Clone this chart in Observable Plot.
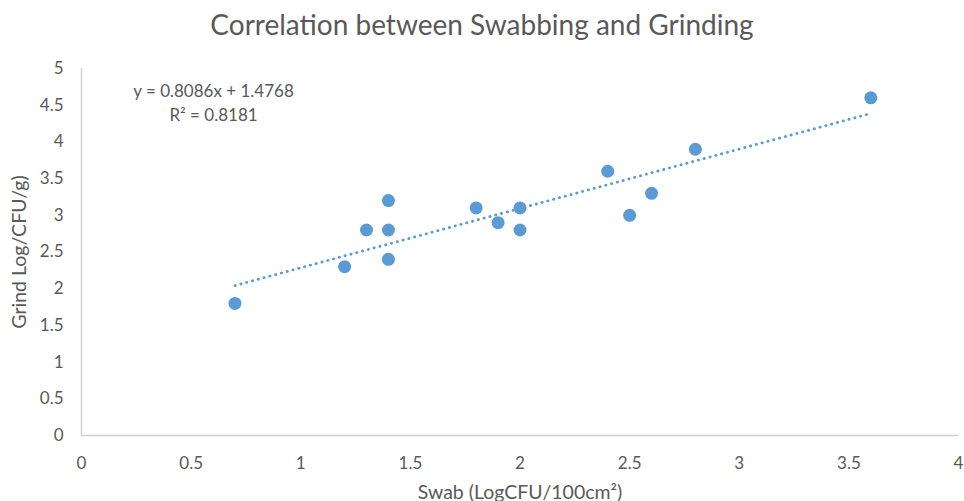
<!DOCTYPE html>
<html>
<head>
<meta charset="utf-8">
<script src="https://cdn.jsdelivr.net/npm/d3@7"></script>
<script src="https://cdn.jsdelivr.net/npm/@observablehq/plot@0.6"></script>
<style>
  html, body { margin: 0; padding: 0; background: #fff; overflow: hidden; }
  #title { height: 50px; width: 964px; text-align: center; font-family: Lato, "Open Sans", sans-serif; font-size: 28px; color: #595959; line-height: 48px; }
  #chart { position: relative; width: 964px; }
</style>
</head>
<body>
<div id="title">Correlation between Swabbing and Grinding</div>
<div id="chart"></div>
<script>
const swab  = [0.7, 1.2, 1.3, 1.4, 1.4, 1.4, 1.8, 1.9, 2.0, 2.0, 2.4, 2.5, 2.6, 2.8, 3.6];
const grind = [1.8, 2.3, 2.8, 3.2, 2.8, 2.4, 3.1, 2.9, 3.1, 2.8, 3.6, 3.0, 3.3, 3.9, 4.6];
const xTicks = [0, 0.5, 1, 1.5, 2, 2.5, 3, 3.5, 4];
const yTicks = [0, 0.5, 1, 1.5, 2, 2.5, 3, 3.5, 4, 4.5, 5];
const equationLines = ["y = 0.8086x + 1.4768", "R² = 0.8181"];
const xLabel = "Swab (LogCFU/100cm²)";
const yLabel = "Grind Log/CFU/g)";

const data = swab.map((x, i) => ({x, y: grind[i]}));
const blue = "#5b9bd5";
const textColor = "#595959";
const fmt = d => String(d);

const chart = Plot.plot({
  width: 964,
  height: 451,
  marginTop: 18,
  marginBottom: 66,
  marginLeft: 81,
  marginRight: 6,
  style: {fontFamily: "Lato, 'Open Sans', sans-serif", fontSize: "17px", color: textColor, background: "#fff", overflow: "visible"},
  x: {domain: [0, 4]},
  y: {domain: [0, 5]},
  marks: [
    Plot.ruleY([0], {stroke: "#d0d0d0", strokeWidth: 1.5}),
    Plot.ruleX([0], {stroke: "#d0d0d0", strokeWidth: 1.5}),
    Plot.axisX({ticks: xTicks, tickFormat: fmt, tickSize: 0, tickPadding: 21, label: null, fill: textColor, fontSize: 17}),
    Plot.axisY({ticks: yTicks, tickFormat: fmt, tickSize: 0, tickPadding: 18, label: null, fill: textColor, fontSize: 17}),
    Plot.linearRegressionY(data, {x: "x", y: "y", ci: 0, stroke: blue, strokeWidth: 2.8, strokeDasharray: "0.3,5.7", strokeLinecap: "round"}),
    Plot.dot(data, {x: "x", y: "y", r: 6.5, fill: blue, stroke: "none"}),
    Plot.text([equationLines.join("\n")], {frameAnchor: "top-left", dx: 132, dy: 12, textAnchor: "middle", lineAnchor: "top", lineHeight: 1.4, fontSize: 17, fill: textColor}),
    Plot.text([xLabel], {frameAnchor: "bottom", dy: 63, lineAnchor: "bottom", fontSize: 19.5, fill: textColor}),
    Plot.text([yLabel], {frameAnchor: "left", dx: -62, rotate: -90, textAnchor: "middle", fontSize: 19.5, fill: textColor})
  ]
});
document.getElementById("chart").appendChild(chart);
</script>
</body>
</html>
